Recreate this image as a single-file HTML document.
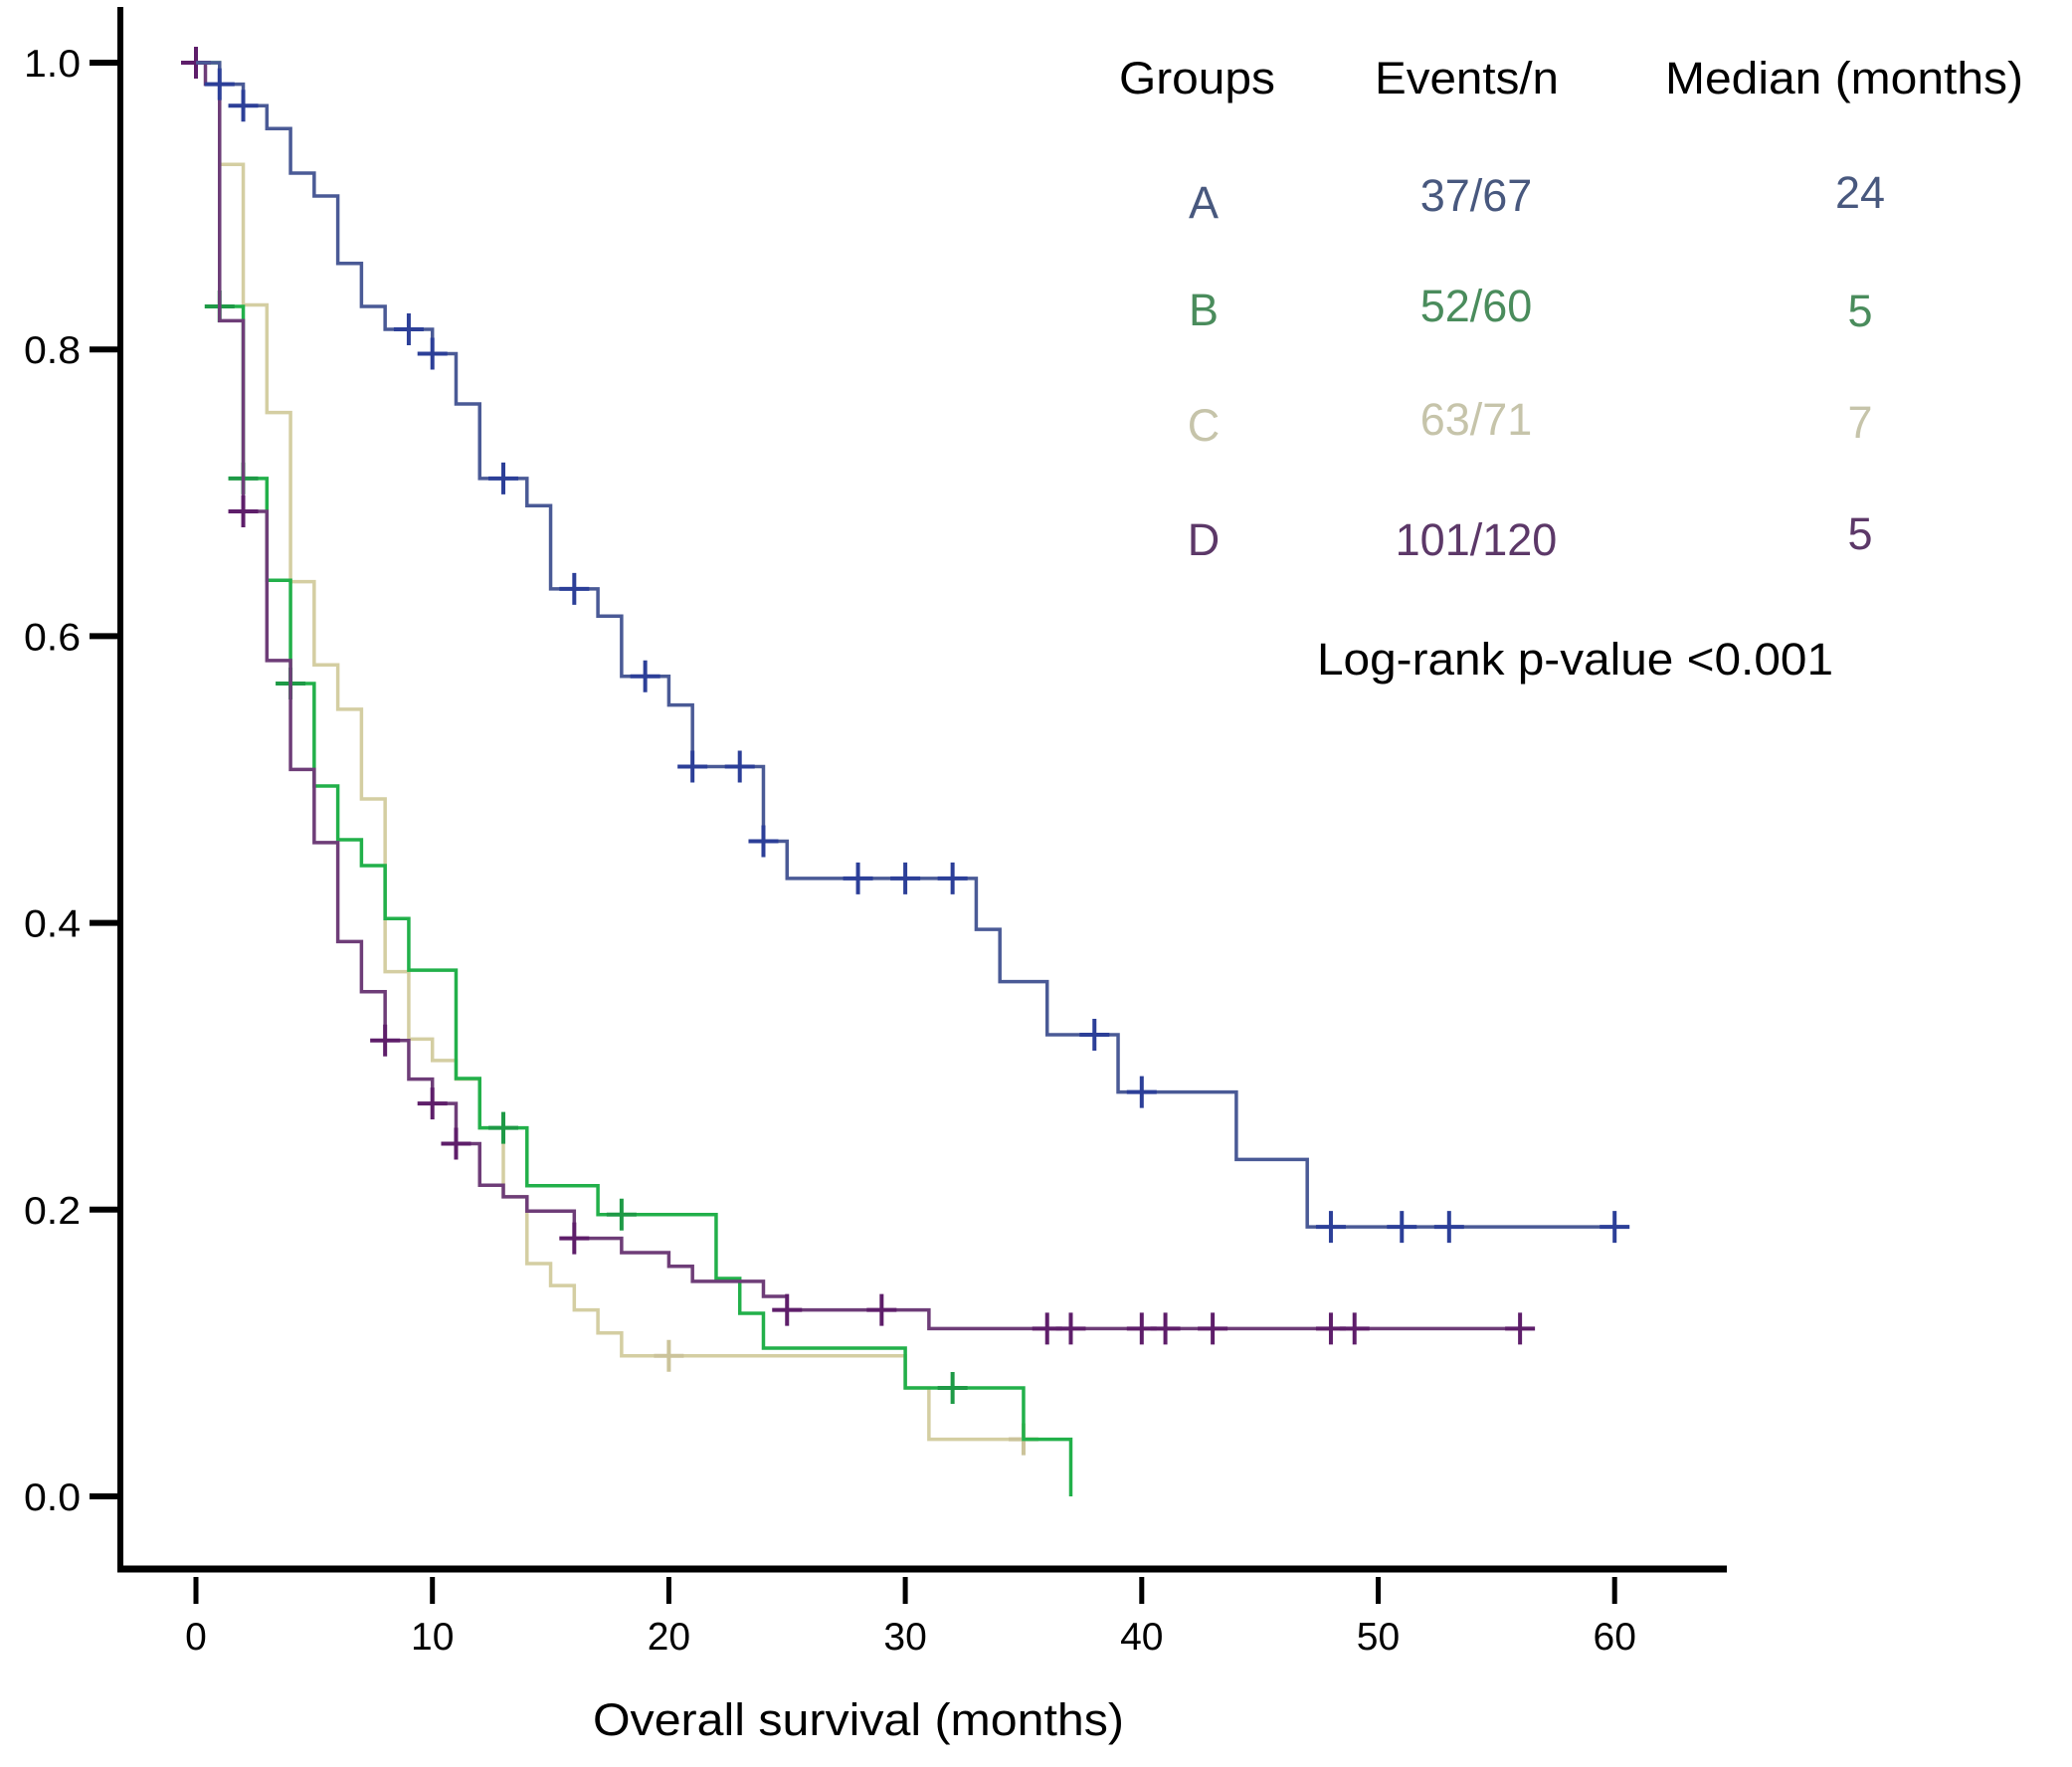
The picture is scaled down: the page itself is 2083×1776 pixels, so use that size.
<!DOCTYPE html>
<html><head><meta charset="utf-8"><style>
html,body{margin:0;padding:0;background:#fff;}
svg{display:block;font-family:"Liberation Sans",sans-serif;}
</style></head><body>
<svg id="chart" width="2083" height="1776" viewBox="0 0 2083 1776" xmlns="http://www.w3.org/2000/svg">
<rect x="0" y="0" width="2083" height="1776" fill="#fff"/>
<g id="axes"></g>
<g id="curves"></g>
<g id="legend">
  <text x="1125" y="94" font-size="45" textLength="157" lengthAdjust="spacingAndGlyphs">Groups</text>
  <text x="1382" y="94" font-size="45" textLength="185" lengthAdjust="spacingAndGlyphs">Events/n</text>
  <text x="1674" y="94" font-size="45" textLength="360" lengthAdjust="spacingAndGlyphs">Median (months)</text>
  <g fill="#48587e"><text x="1210" y="219" font-size="45" text-anchor="middle">A</text>
  <text x="1484" y="212" font-size="45" text-anchor="middle">37/67</text>
  <text x="1870" y="209" font-size="45" text-anchor="middle">24</text></g>
  <g fill="#4a8c5c"><text x="1210" y="327" font-size="45" text-anchor="middle">B</text>
  <text x="1484" y="323" font-size="45" text-anchor="middle">52/60</text>
  <text x="1870" y="328" font-size="45" text-anchor="middle">5</text></g>
  <g fill="#c6c4aa"><text x="1210" y="443" font-size="45" text-anchor="middle">C</text>
  <text x="1484" y="437" font-size="45" text-anchor="middle">63/71</text>
  <text x="1870" y="440" font-size="45" text-anchor="middle">7</text></g>
  <g fill="#5c3868"><text x="1210" y="558" font-size="45" text-anchor="middle">D</text>
  <text x="1484" y="558" font-size="45" text-anchor="middle">101/120</text>
  <text x="1870" y="552" font-size="45" text-anchor="middle">5</text></g>
  <text x="1324" y="678" font-size="45" textLength="519" lengthAdjust="spacingAndGlyphs">Log-rank p-value &lt;0.001</text>
</g>
<text x="863" y="1744" font-size="45" text-anchor="middle" textLength="534" lengthAdjust="spacingAndGlyphs">Overall survival (months)</text>
</svg>
<script>
const xTicks = [0, 10, 20, 30, 40, 50, 60];
const yTicks = [0.0, 0.2, 0.4, 0.6, 0.8, 1.0];
const yTickLabels = ["0.0", "0.2", "0.4", "0.6", "0.8", "1.0"];

const groupNames = ["C", "B", "D", "A"];
const timesA = [0,1,2,3,4,5,6,7,8,10,11,12,14,15,17,18,20,21,24,25,33,34,36,39,44,47];
const survA = [1,0.985,0.970,0.954,0.923,0.907,0.860,0.830,0.814,0.797,0.762,0.710,0.691,0.633,0.614,0.572,0.552,0.509,0.457,0.431,0.3955,0.359,0.322,0.282,0.235,0.188];
const censorA = [1,2,9,10,13,16,19,21,23,24,28,30,32,38,40,48,51,53,60];
const endA = 60.6;

const timesB = [0,1,2,3,4,5,6,7,8,9,11,12,14,17,22,23,24,30,35,37];
const survB = [1,0.830,0.710,0.639,0.567,0.4955,0.458,0.440,0.403,0.367,0.2915,0.257,0.2167,0.1966,0.152,0.1277,0.1034,0.0756,0.0398,0];
const censorB = [1,2,4,13,18,32];
const endB = 37;

const timesC = [0,1,2,3,4,5,6,7,8,9,10,11,12,13,14,15,16,17,18,30,31];
const survC = [1,0.929,0.831,0.756,0.638,0.580,0.549,0.4865,0.366,0.319,0.304,0.291,0.257,0.209,0.1624,0.147,0.130,0.114,0.098,0.0756,0.0398];
const censorC = [20,35];
const endC = 35;

const timesD = [0,0.4,1,2,3,4,5,6,7,8,9,10,11,12,13,14,16,18,20,21,24,25,31];
const survD = [1,0.985,0.82,0.687,0.583,0.507,0.456,0.387,0.352,0.318,0.291,0.274,0.246,0.217,0.209,0.199,0.180,0.170,0.1605,0.150,0.1395,0.130,0.117];
const censorD = [0,2,8,10,11,16,25,29,36,37,40,41,43,48,49,56];
const endD = 56.6;

const NS = "http://www.w3.org/2000/svg";
function xs(t){ return 197 + 23.77 * t; }
function ys(v){ return 1504 - 1441 * v; }
function mk(tag, attrs, parent){
  const e = document.createElementNS(NS, tag);
  for (const k in attrs) e.setAttribute(k, attrs[k]);
  parent.appendChild(e);
  return e;
}
const axes = document.getElementById("axes");
let yl = mk("line", {x1:121, y1:7, x2:121, y2:1580, stroke:"#000", "stroke-width":6}, axes);


let xl = mk("line", {x1:118, y1:1577, x2:1736, y2:1577, stroke:"#000", "stroke-width":7}, axes);


yTicks.forEach((v, i) => {
  const tk = mk("line", {x1:90, y1:ys(v), x2:119, y2:ys(v), stroke:"#000", "stroke-width":6}, axes);
  
  
  const lb = mk("text", {x:81, y:ys(v)+14, "font-size":39, "text-anchor":"end", textLength:57, lengthAdjust:"spacingAndGlyphs"}, axes);
  lb.textContent = yTickLabels[i];
  
  
});
xTicks.forEach(t => {
  const tk = mk("line", {x1:xs(t), y1:1585, x2:xs(t), y2:1612, stroke:"#000", "stroke-width":5}, axes);
  
  
  const lb = mk("text", {x:xs(t), y:1658, "font-size":39, "text-anchor":"middle"}, axes);
  lb.textContent = String(t);
  
  
});

const series = {
  A: {times: timesA, surv: survA, cens: censorA, end: endA, line: "#4a5a96", mark: "#2c3f98"},
  B: {times: timesB, surv: survB, cens: censorB, end: endB, line: "#22b04a", mark: "#1e9a46"},
  C: {times: timesC, surv: survC, cens: censorC, end: endC, line: "#d4cea2", mark: "#cbc39a"},
  D: {times: timesD, surv: survD, cens: censorD, end: endD, line: "#6e3d78", mark: "#5e1e6a"}
};
function survAt(s, t){
  let v = s.surv[0];
  for (let i = 0; i < s.times.length; i++) if (s.times[i] <= t) v = s.surv[i];
  return v;
}
const curves = document.getElementById("curves");
groupNames.forEach(name => {
  const s = series[name];
  const g = mk("g", {}, curves);
  
  
  let d = "M" + xs(s.times[0]) + " " + ys(s.surv[0]);
  for (let i = 1; i < s.times.length; i++) {
    d += " H" + xs(s.times[i]) + " V" + ys(s.surv[i]);
  }
  d += " H" + xs(s.end);
  const p = mk("path", {d: d, fill: "none", stroke: s.line, "stroke-width": 3.5}, g);
  
  
  s.cens.forEach(t => {
    const cx = xs(t), cy = ys(survAt(s, t));
    const c = mk("path", {d: "M" + (cx-15) + " " + cy + " H" + (cx+15) + " M" + cx + " " + (cy-16) + " V" + (cy+16), stroke: s.mark, "stroke-width": 4, fill: "none"}, g);
    
    
  });
});
</script>
</body></html>
